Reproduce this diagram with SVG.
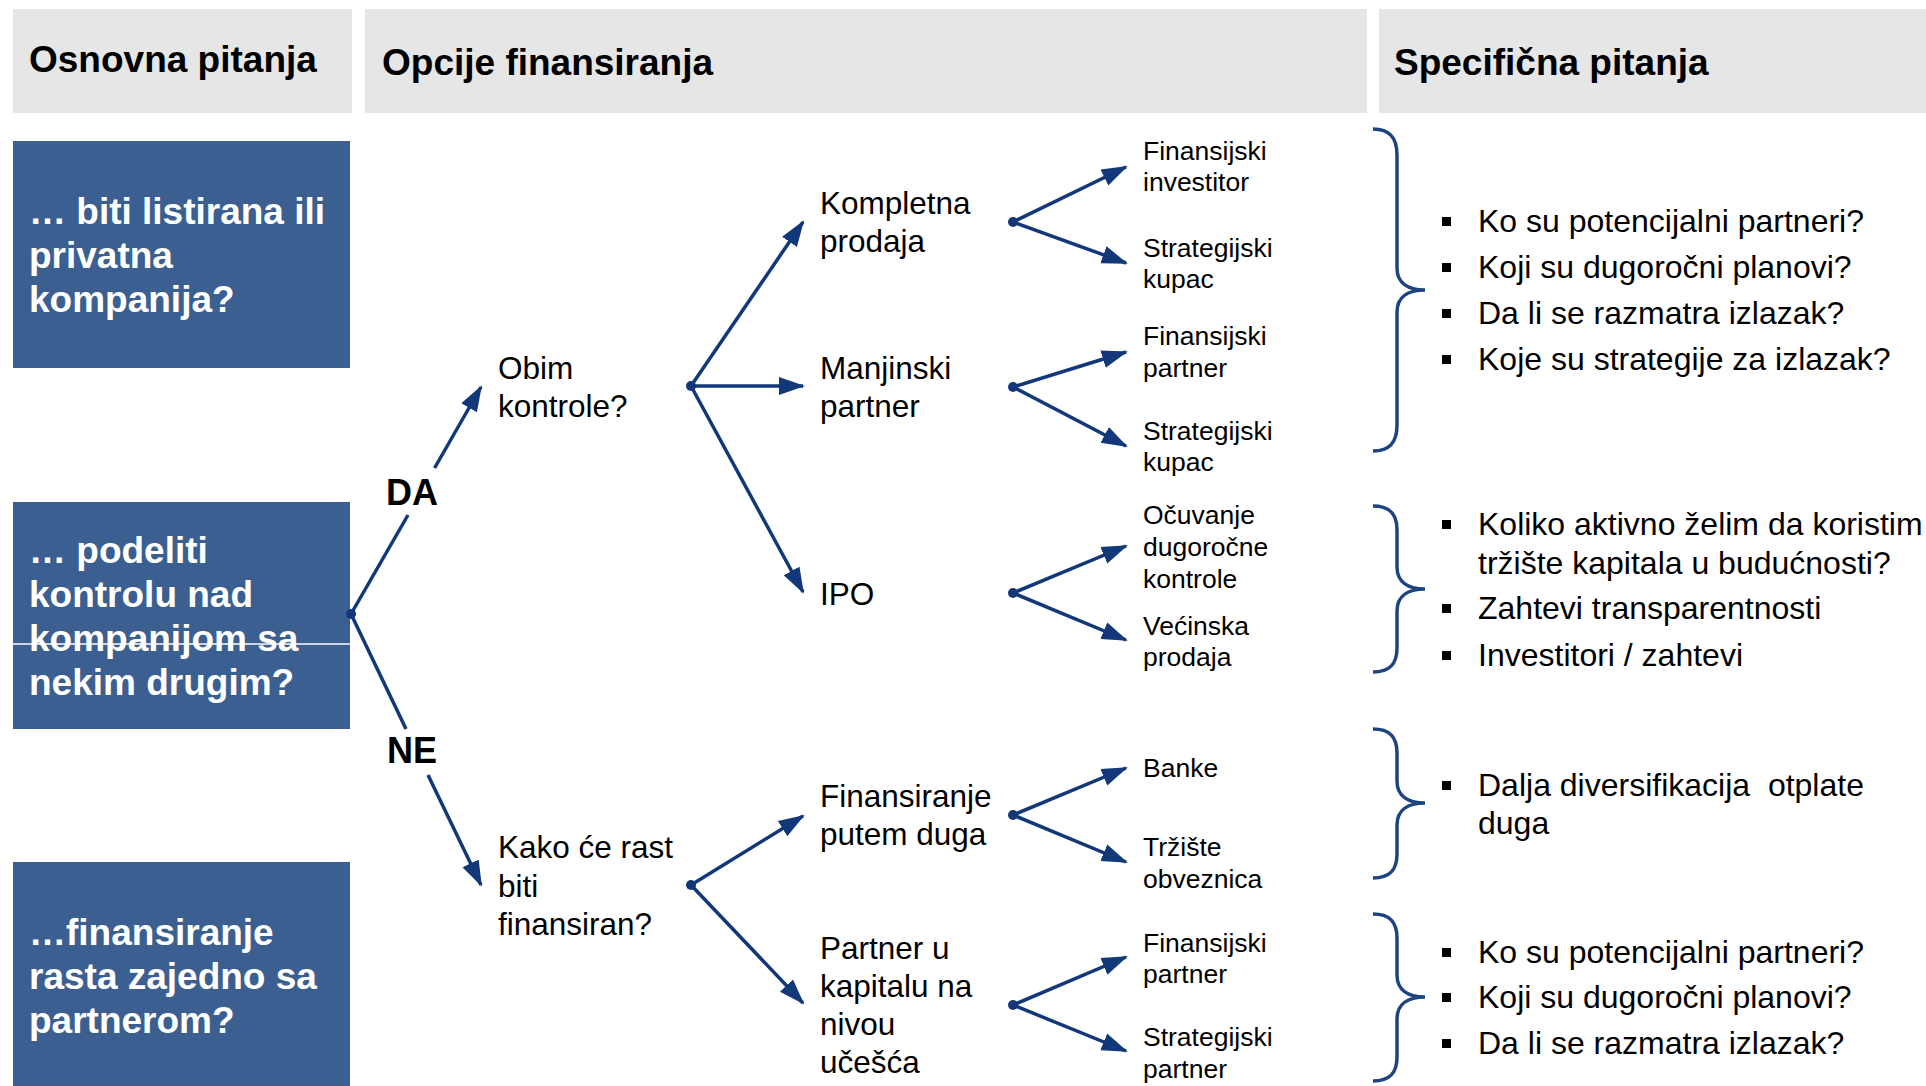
<svg xmlns="http://www.w3.org/2000/svg" width="1926" height="1086" viewBox="0 0 1926 1086">
<defs>
<style>
.hdr{fill:#e6e6e6}
.ht{font-family:"Liberation Sans",Arial,sans-serif;font-weight:bold;font-size:37px;fill:#000}
.box{fill:#3b5f91}
.bt{font-family:"Liberation Sans",Arial,sans-serif;font-weight:bold;font-size:37px;fill:#fff}
.lbl{font-family:"Liberation Sans",Arial,sans-serif;font-size:31.5px;fill:#000}
.sm{font-family:"Liberation Sans",Arial,sans-serif;font-size:26.5px;fill:#000}
.yn{font-family:"Liberation Sans",Arial,sans-serif;font-weight:bold;font-size:36px;fill:#000}
.bl{font-family:"Liberation Sans",Arial,sans-serif;font-size:32px;fill:#000}
.ln{stroke:#12387a;stroke-width:3.5;fill:none}
.ar{marker-end:url(#ah)}
.dot{fill:#12387a}
.br{stroke:#1d4380;stroke-width:3.5;fill:none}
.sq{fill:#000}
</style>
<marker id="ah" markerUnits="userSpaceOnUse" markerWidth="26" markerHeight="20" viewBox="0 0 26 20" refX="24" refY="10" orient="auto"><path d="M0,1 L26,10 L0,19 z" fill="#12387a"/></marker>
</defs>
<rect width="1926" height="1086" fill="#fff"/>

<g id="headers">
<rect class="hdr" x="13" y="9" width="339" height="104"/>
<rect class="hdr" x="365" y="9" width="1002" height="104"/>
<rect class="hdr" x="1379" y="9" width="547" height="104"/>
<text class="ht" x="29" y="72">Osnovna pitanja</text>
<text class="ht" x="382" y="75">Opcije finansiranja</text>
<text class="ht" x="1394" y="75">Specifična pitanja</text>
</g>

<g id="q1">
<rect class="box" x="13" y="141" width="337" height="227"/>
<text class="bt" x="29" y="224">… biti listirana ili</text>
<text class="bt" x="29" y="268">privatna</text>
<text class="bt" x="29" y="312">kompanija?</text>
</g>
<g id="q2">
<rect class="box" x="13" y="502" width="337" height="227"/>
<text class="bt" x="29" y="563">… podeliti</text>
<text class="bt" x="29" y="607">kontrolu nad</text>
<text class="bt" x="29" y="651">kompanijom sa</text>
<text class="bt" x="29" y="695">nekim drugim?</text>
<line x1="13" y1="644" x2="351" y2="644" stroke="#fff" stroke-width="1.5"/>
</g>
<g id="q3">
<rect class="box" x="13" y="862" width="337" height="224"/>
<text class="bt" x="29" y="945">…finansiranje</text>
<text class="bt" x="29" y="989">rasta zajedno sa</text>
<text class="bt" x="29" y="1033">partnerom?</text>
</g>

<g id="connectors">
<line class="ln" x1="351" y1="614" x2="408" y2="515"/>
<line class="ln ar" x1="434.6" y1="468" x2="481" y2="387"/>
<line class="ln" x1="351" y1="614" x2="406" y2="729"/>
<line class="ln ar" x1="428" y1="775" x2="481" y2="885"/>
<circle class="dot" cx="351" cy="614" r="5"/>

<line class="ln ar" x1="691" y1="386" x2="803" y2="222"/>
<line class="ln ar" x1="691" y1="386" x2="803" y2="386"/>
<line class="ln ar" x1="691" y1="386" x2="803" y2="592"/>
<circle class="dot" cx="691" cy="386" r="5"/>

<line class="ln ar" x1="691" y1="885" x2="803" y2="816"/>
<line class="ln ar" x1="691" y1="885" x2="803" y2="1003"/>
<circle class="dot" cx="691" cy="885" r="5"/>

<line class="ln ar" x1="1013" y1="222" x2="1126" y2="167"/>
<line class="ln ar" x1="1013" y1="222" x2="1126" y2="263"/>
<circle class="dot" cx="1013" cy="222" r="5"/>
<line class="ln ar" x1="1013" y1="387" x2="1126" y2="352"/>
<line class="ln ar" x1="1013" y1="387" x2="1126" y2="446"/>
<circle class="dot" cx="1013" cy="387" r="5"/>
<line class="ln ar" x1="1013" y1="593" x2="1126" y2="546"/>
<line class="ln ar" x1="1013" y1="593" x2="1126" y2="640"/>
<circle class="dot" cx="1013" cy="593" r="5"/>
<line class="ln ar" x1="1013" y1="815" x2="1126" y2="768"/>
<line class="ln ar" x1="1013" y1="815" x2="1126" y2="862"/>
<circle class="dot" cx="1013" cy="815" r="5"/>
<line class="ln ar" x1="1013" y1="1005" x2="1126" y2="957"/>
<line class="ln ar" x1="1013" y1="1005" x2="1126" y2="1051"/>
<circle class="dot" cx="1013" cy="1005" r="5"/>
</g>

<g id="yesno">
<text class="yn" x="386" y="505">DA</text>
<text class="yn" x="387" y="763">NE</text>
</g>

<g id="obim"><text class="lbl" x="498" y="379">Obim</text><text class="lbl" x="498" y="417">kontrole?</text></g>
<g id="kako"><text class="lbl" x="498" y="858">Kako će rast</text><text class="lbl" x="498" y="897">biti</text><text class="lbl" x="498" y="935">finansiran?</text></g>

<g id="kompletna"><text class="lbl" x="820" y="214">Kompletna</text><text class="lbl" x="820" y="252">prodaja</text></g>
<g id="manjinski"><text class="lbl" x="820" y="379">Manjinski</text><text class="lbl" x="820" y="417">partner</text></g>
<g id="ipo"><text class="lbl" x="820" y="605">IPO</text></g>
<g id="dug"><text class="lbl" x="820" y="807">Finansiranje</text><text class="lbl" x="820" y="845">putem duga</text></g>
<g id="partner"><text class="lbl" x="820" y="959">Partner u</text><text class="lbl" x="820" y="997">kapitalu na</text><text class="lbl" x="820" y="1035">nivou</text><text class="lbl" x="820" y="1073">učešća</text></g>

<g id="leaf1"><text class="sm" x="1143" y="160">Finansijski</text><text class="sm" x="1143" y="191">investitor</text></g>
<g id="leaf2"><text class="sm" x="1143" y="257">Strategijski</text><text class="sm" x="1143" y="288">kupac</text></g>
<g id="leaf3"><text class="sm" x="1143" y="345">Finansijski</text><text class="sm" x="1143" y="377">partner</text></g>
<g id="leaf4"><text class="sm" x="1143" y="440">Strategijski</text><text class="sm" x="1143" y="471">kupac</text></g>
<g id="leaf5"><text class="sm" x="1143" y="524">Očuvanje</text><text class="sm" x="1143" y="556">dugoročne</text><text class="sm" x="1143" y="588">kontrole</text></g>
<g id="leaf6"><text class="sm" x="1143" y="635">Većinska</text><text class="sm" x="1143" y="666">prodaja</text></g>
<g id="leaf7"><text class="sm" x="1143" y="777">Banke</text></g>
<g id="leaf8"><text class="sm" x="1143" y="856">Tržište</text><text class="sm" x="1143" y="888">obveznica</text></g>
<g id="leaf9"><text class="sm" x="1143" y="952">Finansijski</text><text class="sm" x="1143" y="983">partner</text></g>
<g id="leaf10"><text class="sm" x="1143" y="1046">Strategijski</text><text class="sm" x="1143" y="1078">partner</text></g>

<g id="braces">
<path class="br" d="M1373,129 C1390,129 1397,138 1397,155 L1397,268 C1397,283 1408,290 1425,290 C1408,290 1397,297 1397,312 L1397,425 C1397,442 1390,451 1373,451"/>
<path class="br" d="M1373,506 C1390,506 1397,514 1397,530 L1397,567 C1397,582 1408,589 1425,589 C1408,589 1397,596 1397,611 L1397,648 C1397,664 1390,672 1373,672"/>
<path class="br" d="M1373,729 C1390,729 1397,737 1397,753 L1397,781 C1397,796 1408,803 1425,803 C1408,803 1397,810 1397,825 L1397,854 C1397,870 1390,878 1373,878"/>
<path class="br" d="M1373,914 C1390,914 1397,922 1397,938 L1397,975 C1397,990 1408,997 1425,997 C1408,997 1397,1004 1397,1019 L1397,1057 C1397,1073 1390,1081 1373,1081"/>
</g>

<g id="spec1">
<rect class="sq" x="1442" y="217" width="9" height="9"/><text class="bl" x="1478" y="232">Ko su potencijalni partneri?</text>
<rect class="sq" x="1442" y="263" width="9" height="9"/><text class="bl" x="1478" y="278">Koji su dugoročni planovi?</text>
<rect class="sq" x="1442" y="309" width="9" height="9"/><text class="bl" x="1478" y="324">Da li se razmatra izlazak?</text>
<rect class="sq" x="1442" y="355" width="9" height="9"/><text class="bl" x="1478" y="370">Koje su strategije za izlazak?</text>
</g>
<g id="spec2">
<rect class="sq" x="1442" y="520" width="9" height="9"/><text class="bl" x="1478" y="535">Koliko aktivno želim da koristim</text>
<text class="bl" x="1478" y="574">tržište kapitala u budućnosti?</text>
<rect class="sq" x="1442" y="604" width="9" height="9"/><text class="bl" x="1478" y="619">Zahtevi transparentnosti</text>
<rect class="sq" x="1442" y="651" width="9" height="9"/><text class="bl" x="1478" y="666">Investitori / zahtevi</text>
</g>
<g id="spec3">
<rect class="sq" x="1442" y="781" width="9" height="9"/><text class="bl" x="1478" y="796" xml:space="preserve">Dalja diversifikacija  otplate</text>
<text class="bl" x="1478" y="834">duga</text>
</g>
<g id="spec4">
<rect class="sq" x="1442" y="948" width="9" height="9"/><text class="bl" x="1478" y="963">Ko su potencijalni partneri?</text>
<rect class="sq" x="1442" y="993" width="9" height="9"/><text class="bl" x="1478" y="1008">Koji su dugoročni planovi?</text>
<rect class="sq" x="1442" y="1039" width="9" height="9"/><text class="bl" x="1478" y="1054">Da li se razmatra izlazak?</text>
</g>
</svg>
